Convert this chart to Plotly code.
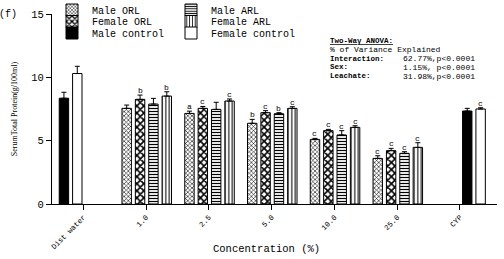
import plotly.graph_objects as go

categories = ["Dist water", "1.0", "2.5", "5.0", "10.0", "25.0", "CYP"]
conc_cats = ["1.0", "2.5", "5.0", "10.0", "25.0"]
ctrl_cats = ["Dist water", "CYP"]

male_orl = [7.55, 7.15, 6.37, 5.10, 3.60]
male_orl_err = [0.26, 0.18, 0.31, 0.08, 0.21]
male_orl_letters = ["", "a", "b", "c", "c"]

female_orl = [8.26, 7.55, 7.21, 5.79, 4.21]
female_orl_err = [0.34, 0.15, 0.16, 0.10, 0.18]
female_orl_letters = ["b", "c", "c", "c", "c"]

male_arl = [7.89, 7.47, 7.13, 5.45, 4.00]
male_arl_err = [0.45, 0.56, 0.08, 0.34, 0.13]
male_arl_letters = ["", "", "b", "c", "c"]

female_arl = [8.52, 8.13, 7.55, 6.05, 4.47]
female_arl_err = [0.34, 0.16, 0.13, 0.13, 0.37]
female_arl_letters = ["b", "c", "c", "c", "c"]

male_ctrl = [8.35, 7.34]
male_ctrl_err = [0.47, 0.21]
male_ctrl_letters = ["", ""]

female_ctrl = [10.30, 7.50]
female_ctrl_err = [0.57, 0.10]
female_ctrl_letters = ["", "c"]

anova_title = "Two-Way ANOVA:"
anova_sub = "% of Variance Explained"
anova_terms = ["Interaction:", "Sex:", "Leachate:"]
anova_values = ["62.77%,p<0.0001", "1.15%, p<0.0001", "31.98%,p<0.0001"]

# canvas / plot-area geometry (pixels)
W, H = 504, 259
L, R, T, B = 52, 7, 14, 55
plot_w = W - L - R
plot_h = H - T - B

def px_x(px):
    return (px - L) / plot_w

def px_y(py):
    return (H - B - py) / plot_h

# layout of slots within each category group
BAR_W = 0.15
PITCH = 0.213
START = -0.385

def slot_offset(s):
    return START + s * PITCH

MONO = "Liberation Mono"

fig = go.Figure()
annotations = []

# legend slots: (legend id, x px of legend box, y px of row centre)
legend_slots = {
    "Male ORL": ("legend", 52, 10),
    "Female ORL": ("legend2", 52, 21.5),
    "Male control": ("legend3", 52, 33),
    "Male ARL": ("legend4", 171, 10),
    "Female ARL": ("legend5", 171, 21.5),
    "Female control": ("legend6", 171, 33),
}

def add_series(name, cats, vals, errs, letters, slots, fill, pattern):
    offs = [slot_offset(s) for s in slots]
    marker = dict(color=fill, line=dict(color="black", width=1))
    if pattern:
        marker["pattern"] = pattern
    fig.add_trace(go.Bar(
        name=name, x=cats, y=vals, width=BAR_W, offset=offs,
        marker=marker, legend=legend_slots[name][0],
        error_y=dict(type="data", array=errs, arrayminus=[0] * len(errs),
                     symmetric=False, color="black", thickness=1, width=2.5),
    ))
    for c, v, e, l, o in zip(cats, vals, errs, letters, offs):
        if l:
            annotations.append(dict(
                x=categories.index(c) + o + BAR_W / 2, y=v + e, xref="x", yref="y",
                text=l, showarrow=False, yanchor="bottom", yshift=-2,
                font=dict(family=MONO, size=8, color="black")))

pat_mo = dict(shape="x", size=3, solidity=0.35, fgcolor="black", bgcolor="white", fillmode="replace")
pat_fo = dict(shape="x", size=5, solidity=0.55, fgcolor="black", bgcolor="white", fillmode="replace")
pat_ma = dict(shape="-", size=3, solidity=0.4, fgcolor="black", bgcolor="white", fillmode="replace")
pat_fa = dict(shape="|", size=3.5, solidity=0.3, fgcolor="black", bgcolor="white", fillmode="replace")

add_series("Male ORL", conc_cats, male_orl, male_orl_err, male_orl_letters, [0] * 5, "white", pat_mo)
add_series("Female ORL", conc_cats, female_orl, female_orl_err, female_orl_letters, [1] * 5, "white", pat_fo)
add_series("Male ARL", conc_cats, male_arl, male_arl_err, male_arl_letters, [2] * 5, "white", pat_ma)
add_series("Female ARL", conc_cats, female_arl, female_arl_err, female_arl_letters, [3] * 5, "white", pat_fa)
add_series("Male control", ctrl_cats, male_ctrl, male_ctrl_err, male_ctrl_letters, [0, 2], "black", None)
add_series("Female control", ctrl_cats, female_ctrl, female_ctrl_err, female_ctrl_letters, [1, 3], "white", None)

# ANOVA text block
AX0, AX1 = px_x(328), px_x(477)
annotations.append(dict(x=AX0, y=px_y(40.5), xref="paper", yref="paper", text="<b>" + anova_title + "</b>",
                        showarrow=False, xanchor="left", yanchor="middle",
                        font=dict(family=MONO, size=7.5, color="black", lineposition="under")))
annotations.append(dict(x=AX0, y=px_y(49.5), xref="paper", yref="paper", text=anova_sub,
                        showarrow=False, xanchor="left", yanchor="middle",
                        font=dict(family=MONO, size=8, color="black")))
for i, (t, v) in enumerate(zip(anova_terms, anova_values)):
    yy = px_y(58.7 + i * 8.7)
    annotations.append(dict(x=AX0, y=yy, xref="paper", yref="paper", text="<b>" + t + "</b>",
                            showarrow=False, xanchor="left", yanchor="middle",
                            font=dict(family=MONO, size=7.5, color="black")))
    annotations.append(dict(x=AX1, y=yy, xref="paper", yref="paper", text=v,
                            showarrow=False, xanchor="right", yanchor="middle",
                            font=dict(family=MONO, size=8, color="black")))

annotations.append(dict(x=px_x(8), y=px_y(14), xref="paper", yref="paper", text="(f)",
                        showarrow=False, xanchor="center", yanchor="middle",
                        font=dict(family=MONO, size=10, color="black")))
annotations.append(dict(x=px_x(266), y=px_y(249), xref="paper", yref="paper",
                        text="Concentration (%)", showarrow=False, xanchor="center", yanchor="middle",
                        font=dict(family=MONO, size=10.5, color="black")))

legend_layout = {}
for name, (lid, lx, ly) in legend_slots.items():
    legend_layout[lid] = dict(
        x=px_x(lx), y=px_y(ly), xanchor="left", yanchor="middle",
        xref="paper", yref="paper", itemwidth=30,
        font=dict(family=MONO, size=10, color="black"),
        bgcolor="rgba(0,0,0,0)", borderwidth=0)

fig.update_layout(
    width=W, height=H,
    margin=dict(l=L, r=R, t=T, b=B, pad=0, autoexpand=False),
    paper_bgcolor="white", plot_bgcolor="white",
    barmode="overlay",
    showlegend=True,
    annotations=annotations,
    xaxis=dict(type="category", categoryorder="array", categoryarray=categories,
               range=[-0.5, 6.59], showline=True, linecolor="black", linewidth=1,
               ticks="outside", ticklen=5, tickcolor="black", tickangle=-45, automargin=False,
               tickfont=dict(family=MONO, size=7.5, color="black"), showgrid=False, zeroline=False),
    yaxis=dict(range=[0, 15], tickvals=[0, 5, 10, 15], showline=True, linecolor="black", linewidth=1,
               ticks="outside", ticklen=5, tickcolor="black", automargin=False,
               tickfont=dict(family=MONO, size=10.5, color="black"), showgrid=False, zeroline=False,
               title=dict(text="SerumTotal Protein(g/100ml)", standoff=12,
                          font=dict(family="Liberation Serif", size=8, color="black"))),
    **legend_layout,
)

# remove the browser's default 8px body margin so the figure fills the window exactly
fig.write_html("out.html", config={"displayModeBar": False},
               post_script="document.body.style.margin='0';document.body.style.overflow='hidden';")
